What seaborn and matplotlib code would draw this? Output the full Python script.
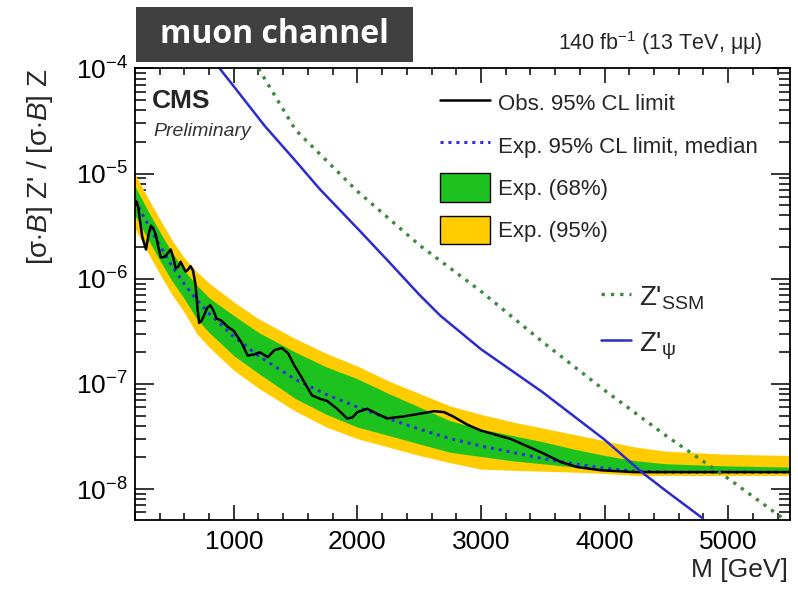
import numpy as np
import pandas as pd
import matplotlib
matplotlib.use("Agg")
import matplotlib.pyplot as plt
import seaborn as sns
from matplotlib.lines import Line2D
from matplotlib.patches import Patch, Rectangle
from matplotlib.ticker import LogLocator, MultipleLocator, NullFormatter

# ---------------- data ----------------
mass_band = [200, 300, 400, 500, 600, 700, 800, 1000, 1200, 1500, 1750, 2000,
             2250, 2500, 2750, 3000, 3250, 3500, 3750, 4000, 4250, 4500, 5000, 5500]
exp_median = [5.62e-6, 3.39e-6, 2.09e-6, 1.32e-6, 8.91e-7, 6.31e-7, 4.68e-7, 2.82e-7,
              1.85e-7, 1.10e-7, 7.94e-8, 6.03e-8, 4.68e-8, 3.72e-8, 3.02e-8, 2.57e-8,
              2.24e-8, 1.95e-8, 1.74e-8, 1.58e-8, 1.48e-8, 1.45e-8, 1.45e-8, 1.45e-8]
exp95_hi = [1.0e-5, 6.03e-6, 3.72e-6, 2.34e-6, 1.58e-6, 1.17e-6, 9.1e-7, 6.03e-7,
            4.17e-7, 2.69e-7, 1.95e-7, 1.48e-7, 1.07e-7, 8.13e-8, 6.17e-8, 5.13e-8,
            4.37e-8, 3.80e-8, 3.31e-8, 2.88e-8, 2.51e-8, 2.29e-8, 2.14e-8, 2.09e-8]
exp68_hi = [7.59e-6, 4.57e-6, 2.82e-6, 1.78e-6, 1.20e-6, 8.7e-7, 6.6e-7, 4.47e-7,
            3.09e-7, 2.0e-7, 1.45e-7, 1.12e-7, 8.13e-8, 6.03e-8, 4.47e-8, 3.72e-8,
            3.24e-8, 2.82e-8, 2.40e-8, 2.09e-8, 1.86e-8, 1.74e-8, 1.66e-8, 1.62e-8]
exp68_lo = [4.07e-6, 2.45e-6, 1.51e-6, 9.55e-7, 6.46e-7, 4.17e-7, 3.09e-7, 1.86e-7,
            1.26e-7, 7.24e-8, 5.13e-8, 3.89e-8, 3.24e-8, 2.69e-8, 2.24e-8, 2.04e-8,
            1.86e-8, 1.74e-8, 1.62e-8, 1.51e-8, 1.45e-8, 1.45e-8, 1.45e-8, 1.45e-8]
exp95_lo = [3.02e-6, 1.82e-6, 1.12e-6, 7.08e-7, 4.79e-7, 3.02e-7, 2.24e-7, 1.35e-7,
            9.12e-8, 5.50e-8, 3.89e-8, 3.02e-8, 2.51e-8, 2.09e-8, 1.78e-8, 1.55e-8,
            1.51e-8, 1.48e-8, 1.45e-8, 1.41e-8, 1.35e-8, 1.35e-8, 1.35e-8, 1.35e-8]

mass_obs = [200, 215, 230, 245, 260, 290, 310, 330, 350, 370, 390, 410, 430, 450, 490,
            510, 530, 550, 570, 590, 610, 630, 650, 670, 690, 705, 720, 740,
            760, 785, 810, 835, 860, 900, 950, 1000, 1060, 1113, 1160, 1211, 1276, 1330,
            1390, 1440, 1490, 1540, 1632, 1700, 1755, 1836, 1917, 1960, 2000, 2080, 2160,
            2240, 2370, 2500, 2620, 2700, 2775, 2890, 3000, 3240, 3500, 3650, 3780,
            3970, 4240, 5500]
obs_limit = [5.0e-6, 5.4e-6, 4.6e-6, 3.3e-6, 2.5e-6, 1.9e-6, 2.6e-6, 3.2e-6, 3.0e-6,
             2.6e-6, 2.0e-6, 1.6e-6, 1.6e-6, 1.66e-6, 1.9e-6, 1.6e-6, 1.26e-6, 1.3e-6,
             1.45e-6, 1.3e-6, 1.17e-6, 1.22e-6, 1.32e-6, 1.2e-6, 8.9e-7, 5.5e-7, 3.8e-7,
             4.0e-7, 4.5e-7, 5.3e-7, 5.6e-7, 5.0e-7, 4.2e-7, 4.0e-7, 3.5e-7, 3.2e-7,
             2.5e-7, 1.86e-7, 1.9e-7, 2.0e-7, 1.8e-7, 2.1e-7, 2.2e-7, 1.95e-7, 1.5e-7,
             1.2e-7, 7.8e-8, 7.2e-8, 6.9e-8, 5.8e-8, 4.7e-8, 4.8e-8, 5.4e-8, 5.8e-8,
             5.2e-8, 4.7e-8, 4.9e-8, 5.2e-8, 5.5e-8, 5.4e-8, 4.9e-8, 4.1e-8, 3.6e-8,
             3.0e-8, 2.2e-8, 1.8e-8, 1.62e-8, 1.51e-8, 1.45e-8, 1.45e-8]

mass_psi = [886, 1000, 1253, 1500, 1698, 2000, 2241, 2500, 2670, 3000, 3377, 3500,
            4000, 4300, 4500, 4796]
zpsi = [1.0e-4, 6.76e-5, 2.82e-5, 1.32e-5, 7.08e-6, 3.02e-6, 1.51e-6, 7.08e-7, 4.47e-7,
        2.14e-7, 1.05e-7, 8.32e-8, 2.95e-8, 1.45e-8, 9.55e-9, 5.25e-9]
mass_ssm = [1200, 1500, 2000, 2500, 3000, 3500, 4000, 4500, 5000, 5450]
zssm = [1.0e-4, 2.6e-5, 6.8e-6, 2.1e-6, 7.6e-7, 2.5e-7, 8.7e-8, 3.2e-8, 1.26e-8, 5.2e-9]

legend_labels = ["Obs. 95% CL limit", "Exp. 95% CL limit, median", "Exp. (68%)", "Exp. (95%)"]
model_labels = [r"Z'$_{\mathrm{SSM}}$", r"Z'$_{\mathrm{ψ}}$"]

# ---------------- style ----------------
sns.set_style("ticks")
plt.rcParams["font.family"] = ["Liberation Sans", "DejaVu Sans"]
plt.rcParams["mathtext.fontset"] = "custom"
plt.rcParams["mathtext.rm"] = "Liberation Sans"
plt.rcParams["mathtext.it"] = "Liberation Sans:italic"
plt.rcParams["mathtext.bf"] = "Liberation Sans:bold"
plt.rcParams["axes.linewidth"] = 1.3

GREEN = "#1ec21e"
YELLOW = "#ffcc00"
BLUE = "#2b2bd0"
MED = "#2f2fe0"
SSMC = "#3f8a3f"

fig = plt.figure(figsize=(7.98, 5.98), dpi=100)
ax = fig.add_axes([0.169, 0.1304, 0.821, 0.7551])

ax.fill_between(mass_band, exp95_lo, exp95_hi, color=YELLOW, lw=0)
ax.fill_between(mass_band, exp68_lo, exp68_hi, color=GREEN, lw=0)

df_med = pd.DataFrame({"M": mass_band, "v": exp_median})
df_obs = pd.DataFrame({"M": mass_obs, "v": obs_limit})
df_psi = pd.DataFrame({"M": mass_psi, "v": zpsi})
df_ssm = pd.DataFrame({"M": mass_ssm, "v": zssm})

sns.lineplot(data=df_med, x="M", y="v", ax=ax, color=MED, lw=2.2,
             linestyle=(0, (1, 1.6)), estimator=None, sort=False)
sns.lineplot(data=df_obs, x="M", y="v", ax=ax, color="black", lw=1.8,
             estimator=None, sort=False)
sns.lineplot(data=df_psi, x="M", y="v", ax=ax, color=BLUE, lw=1.8,
             estimator=None, sort=False)
sns.lineplot(data=df_ssm, x="M", y="v", ax=ax, color=SSMC, lw=2.4,
             linestyle=(0, (1, 1.8)), estimator=None, sort=False)

ax.set_yscale("log")
ax.set_xlim(200, 5500)
ax.set_ylim(5.08e-9, 1e-4)

ax.xaxis.set_major_locator(MultipleLocator(1000))
ax.xaxis.set_minor_locator(MultipleLocator(200))
ax.yaxis.set_major_locator(LogLocator(base=10, numticks=10))
ax.yaxis.set_minor_locator(LogLocator(base=10, subs=np.arange(2, 10), numticks=20))
ax.yaxis.set_minor_formatter(NullFormatter())

ax.tick_params(axis="both", which="both", direction="in", top=True, right=True,
               width=1.1, colors="black")
ax.tick_params(axis="x", which="major", length=10.5, pad=7, labelsize=19)
ax.tick_params(axis="x", which="minor", length=5)
ax.tick_params(axis="y", which="major", length=14, pad=5, labelsize=19)
ax.tick_params(axis="y", which="minor", length=8)
for s in ax.spines.values():
    s.set_visible(True)
    s.set_color("black")

ax.set_xlabel("M [GeV]", fontsize=19, loc="right")
ax.xaxis.set_label_coords(0.997, -0.085)
ax.set_ylabel(r"[σ$\cdot\mathit{B}$] Z' / [σ$\cdot\mathit{B}$] Z", fontsize=20, loc="top")
ax.yaxis.set_label_coords(-0.122, 1.0)

# CMS labels
ax.text(0.026, 0.928, "CMS", transform=ax.transAxes, fontsize=19, fontweight="bold",
        va="center", ha="left")
ax.text(0.028, 0.860, "Preliminary", transform=ax.transAxes, fontsize=14,
        fontstyle="italic", va="center", ha="left", color="#333333")
fig.text(0.956, 0.916, r"140 fb$^{\mathregular{-1}}$ (13 TeV, μμ)", fontsize=15.5,
         ha="right", va="baseline")

# legends
h1 = [Line2D([], [], color="black", lw=1.8),
      Line2D([], [], color=MED, lw=2.2, linestyle=(0, (1, 1.6))),
      Patch(facecolor=GREEN, edgecolor="black", lw=1),
      Patch(facecolor=YELLOW, edgecolor="black", lw=1)]
leg1 = ax.legend(h1, legend_labels, loc="upper left", bbox_to_anchor=(0.466, 0.955),
                 frameon=False, fontsize=16, handlelength=2.25, handleheight=1.6,
                 labelspacing=0.62, handletextpad=0.35, borderaxespad=0, borderpad=0)
ax.add_artist(leg1)
h2 = [Line2D([], [], color=SSMC, lw=2.4, linestyle=(0, (1, 1.8))),
      Line2D([], [], color=BLUE, lw=1.8)]
leg2 = ax.legend(h2, model_labels, loc="upper left", bbox_to_anchor=(0.711, 0.524),
                 frameon=False, fontsize=20, handlelength=1.08, handleheight=1.0,
                 labelspacing=0.62, handletextpad=0.3, borderaxespad=0, borderpad=0)

# title box
fig.patches.append(Rectangle((0.1704, 0.8963), 0.347, 0.092, transform=fig.transFigure,
                             facecolor="#404040", edgecolor="none", zorder=5))
fig.text(0.344, 0.942, "muon channel", fontsize=23, fontweight="bold", color="white",
         family=["Open Sans", "DejaVu Sans"], ha="center", va="center", zorder=6)

fig.savefig("out.png", dpi=100)
